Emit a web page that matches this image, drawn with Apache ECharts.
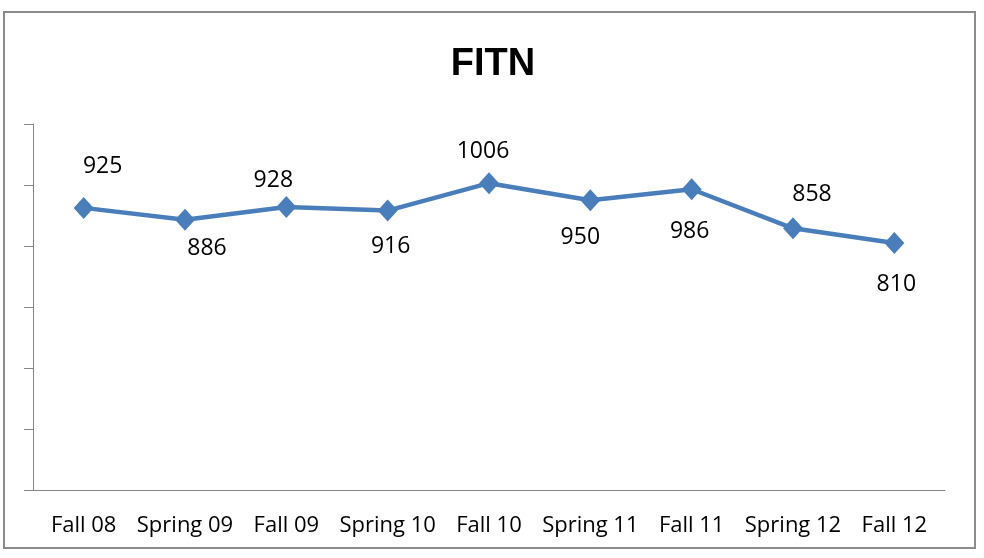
<!DOCTYPE html>
<html>
<head>
<meta charset="utf-8">
<title>FITN</title>
<script src="https://cdn.jsdelivr.net/npm/echarts@6/dist/echarts.min.js"></script>
<style>
  html, body { margin: 0; padding: 0; background: #fff; }
  #chart { width: 984px; height: 558px; }
</style>
</head>
<body>
<div id="chart"></div>
<script>
// FITN enrollment by semester
const categories = ['Fall 08', 'Spring 09', 'Fall 09', 'Spring 10', 'Fall 10', 'Spring 11', 'Fall 11', 'Spring 12', 'Fall 12'];
const values = [925, 886, 928, 916, 1006, 950, 986, 858, 810];
// where each value label sits relative to its point (x, y in px)
const labelOffsets = [[19, -41], [22, 29], [-13, -27], [3, 36], [-6, -32], [-10, 37], [-2, 42], [19, -34], [2, 42]];

const font = '"Open Sans", "Liberation Sans", sans-serif';
const axisGray = '#868686';

const chart = echarts.init(document.getElementById('chart'));

const option = {
    backgroundColor: '#ffffff',
    animation: false,
    title: {
        text: 'FITN',
        left: 488,
        top: 41,
        textAlign: 'center',
        textStyle: {
            fontFamily: '"Liberation Sans", Arial, sans-serif',
            fontWeight: 'bold',
            fontSize: 38,
            color: '#000'
        }
    },
    graphic: [
        {
            type: 'rect',
            shape: { x: 4, y: 12, width: 971, height: 536 },
            style: { fill: 'none', stroke: '#8c8c8c', lineWidth: 2 },
            silent: true
        }
    ],
    grid: {
        left: 33,
        right: 39,
        top: 124,
        bottom: 68
    },
    xAxis: {
        type: 'category',
        data: categories,
        boundaryGap: true,
        axisLine: { lineStyle: { color: axisGray, width: 1 } },
        axisTick: { show: false },
        axisLabel: {
            color: '#000',
            fontFamily: font,
            fontSize: 22,
            margin: 25,
            interval: 0
        }
    },
    yAxis: {
        type: 'value',
        min: 0,
        max: 1200,
        interval: 200,
        axisLine: { show: true, lineStyle: { color: axisGray, width: 1 } },
        axisTick: { show: true, length: 9, lineStyle: { color: axisGray } },
        axisLabel: { show: false },
        splitLine: { show: false }
    },
    series: [
        {
            type: 'line',
            data: values.map(function (v, i) {
                return {
                    value: v,
                    label: { offset: labelOffsets[i] }
                };
            }),
            symbol: 'diamond',
            symbolSize: [20, 22],
            lineStyle: { color: '#4a7ebb', width: 4.5 },
            itemStyle: { color: '#4a7ebb' },
            label: {
                show: true,
                position: 'inside',
                color: '#000',
                fontFamily: font,
                fontSize: 23
            }
        }
    ]
};

chart.setOption(option);
</script>
</body>
</html>
